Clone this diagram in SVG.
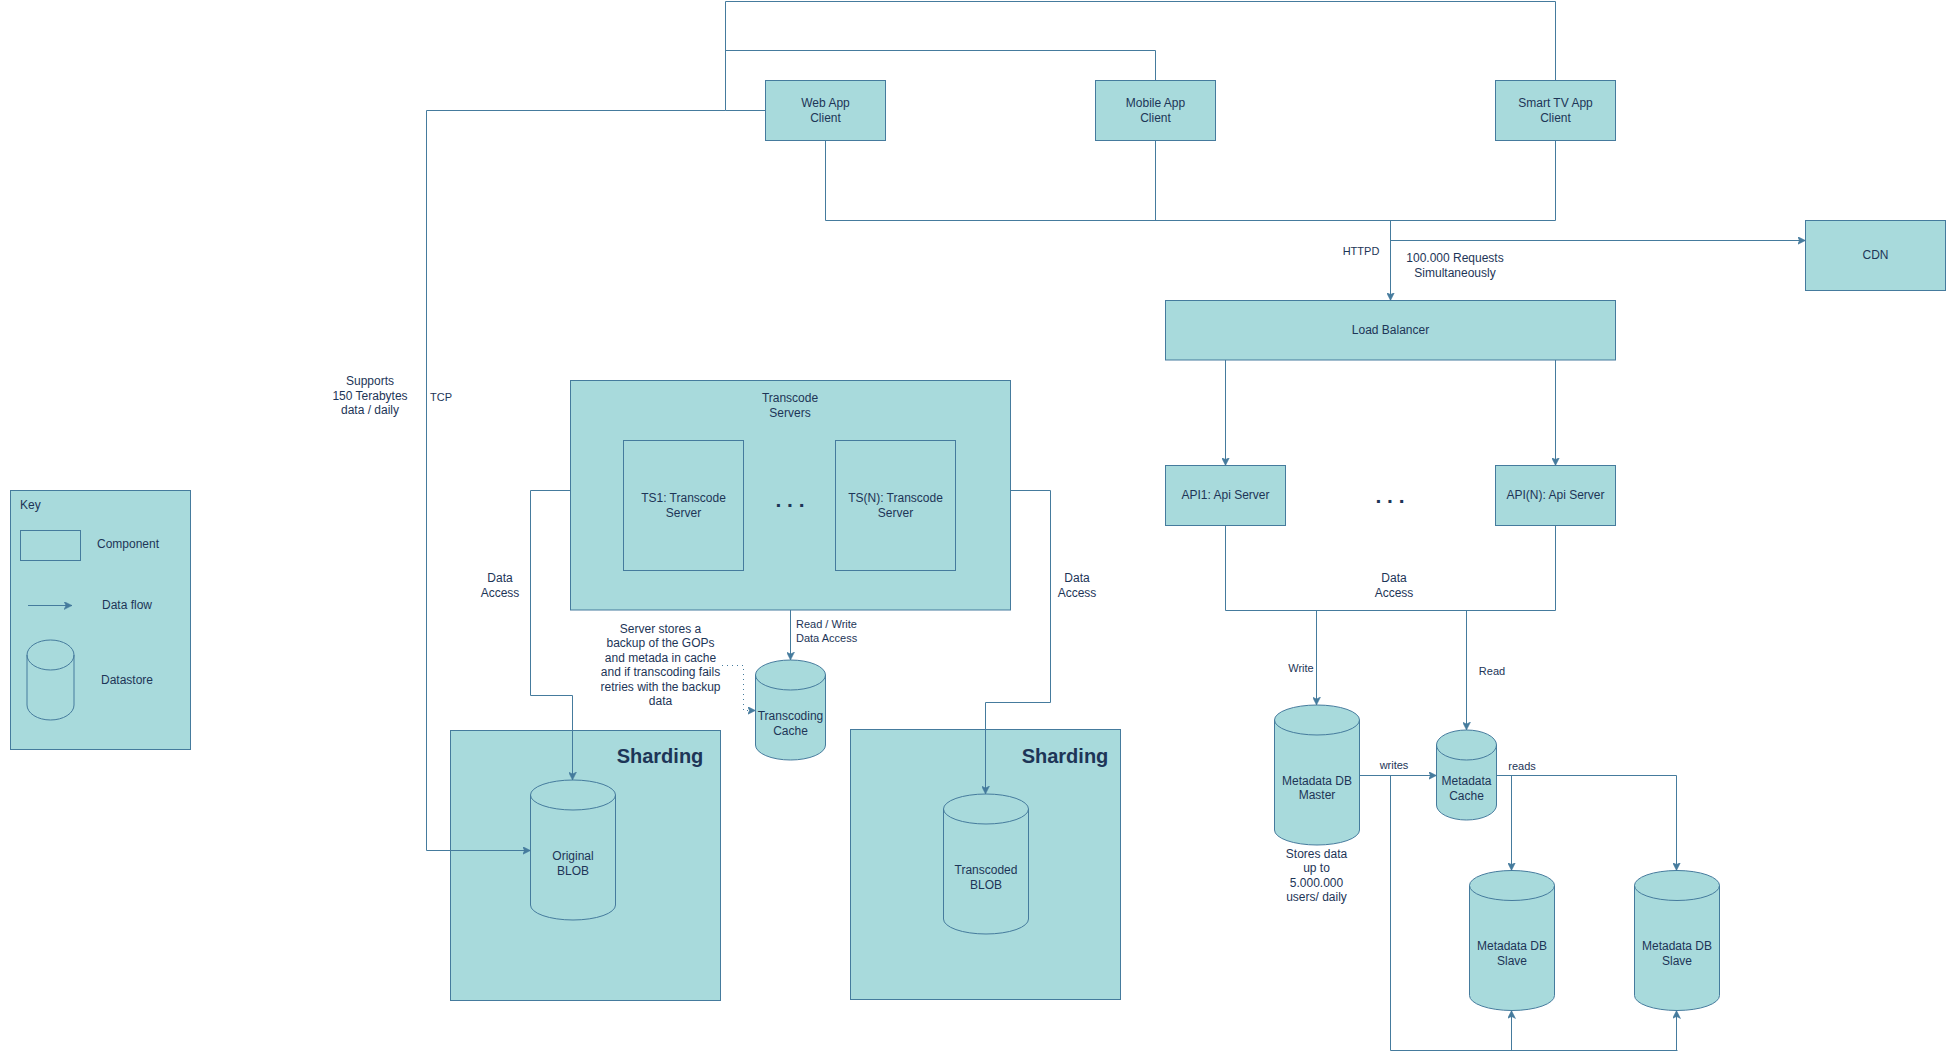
<svg xmlns="http://www.w3.org/2000/svg" width="1947" height="1059" viewBox="0 0 1947 1059">
  <style>
    .box { fill: #A8DADC; stroke: #457B9D; stroke-width: 1; }
    .outline { fill: none; stroke: #457B9D; stroke-width: 1; }
    .cyl { fill: #A8DADC; stroke: #457B9D; stroke-width: 1; }
    .edge { fill: none; stroke: #457B9D; stroke-width: 1; }
    .arrow { marker-end: url(#arr); }
    .dotted { stroke-dasharray: 1 4; }
    text { font-family: "Liberation Sans", Arial, Helvetica, sans-serif; fill: #1D3557; }
    .t12 { font-size: 12px; }
    .t11 { font-size: 11px; }
    .c { text-anchor: middle; }
    .shard { font-size: 20px; font-weight: bold; text-anchor: middle; }
    .dots { font-size: 21px; font-weight: bold; text-anchor: middle; }
  </style>
  <defs>
    <marker id="arr" markerUnits="userSpaceOnUse" markerWidth="8" markerHeight="8" refX="8" refY="4" orient="auto" viewBox="0 0 8 8">
      <path d="M0,0 L8,4 L0,8 L2,4 Z" fill="#457B9D" stroke="#457B9D" stroke-width="0.5"/>
    </marker>
  </defs>
  <rect x="0" y="0" width="1947" height="1059" fill="#FFFFFF"/>

  <!-- Key -->
  <g id="key">
    <rect class="box" x="10.5" y="490.5" width="180" height="259"/>
    <text class="t12" x="20" y="509">Key</text>
    <rect class="outline" x="20.5" y="530.5" width="60" height="30"/>
    <text class="t12 c" x="128" y="548">Component</text>
    <line class="edge arrow" x1="28" y1="605.5" x2="72" y2="605.5"/>
    <text class="t12 c" x="127" y="609">Data flow</text>
    <path class="outline" d="M27,655 A23.5,15 0 0 1 74,655 L74,705 A23.5,15 0 0 1 27,705 Z M27,655 A23.5,15 0 0 0 74,655"/>
    <text class="t12 c" x="127" y="684">Datastore</text>
  </g>

  <!-- Clients -->
  <g id="web-app-client">
    <rect class="box" x="765.5" y="80.5" width="120" height="60"/>
    <text class="t12 c" x="825.5" y="107">Web App</text>
    <text class="t12 c" x="825.5" y="121.5">Client</text>
  </g>
  <g id="mobile-app-client">
    <rect class="box" x="1095.5" y="80.5" width="120" height="60"/>
    <text class="t12 c" x="1155.5" y="107">Mobile App</text>
    <text class="t12 c" x="1155.5" y="121.5">Client</text>
  </g>
  <g id="smart-tv-app-client">
    <rect class="box" x="1495.5" y="80.5" width="120" height="60"/>
    <text class="t12 c" x="1555.5" y="107">Smart TV App</text>
    <text class="t12 c" x="1555.5" y="121.5">Client</text>
  </g>

  <g id="cdn">
    <rect class="box" x="1805.5" y="220.5" width="140" height="70"/>
    <text class="t12 c" x="1875.5" y="259">CDN</text>
  </g>

  <g id="load-balancer">
    <rect class="box" x="1165.5" y="300.5" width="450" height="59.5"/>
    <text class="t12 c" x="1390.5" y="333.5">Load Balancer</text>
  </g>

  <g id="api1">
    <rect class="box" x="1165.5" y="465.5" width="120" height="60"/>
    <text class="t12 c" x="1225.5" y="498.5">API1: Api Server</text>
  </g>
  <text class="dots" x="1390" y="503">. . .</text>
  <g id="apin">
    <rect class="box" x="1495.5" y="465.5" width="120" height="60"/>
    <text class="t12 c" x="1555.5" y="498.5">API(N): Api Server</text>
  </g>

  <!-- Transcode servers -->
  <g id="transcode-servers">
    <rect class="box" x="570.5" y="380.5" width="440" height="229.5"/>
    <text class="t12 c" x="790" y="402">Transcode</text>
    <text class="t12 c" x="790" y="416.5">Servers</text>
    <g id="ts1">
      <rect class="box" x="623.5" y="440.5" width="120" height="130"/>
      <text class="t12 c" x="683.5" y="502">TS1: Transcode</text>
      <text class="t12 c" x="683.5" y="516.5">Server</text>
    </g>
    <text class="dots" x="790" y="507">. . .</text>
    <g id="tsn">
      <rect class="box" x="835.5" y="440.5" width="120" height="130"/>
      <text class="t12 c" x="895.5" y="502">TS(N): Transcode</text>
      <text class="t12 c" x="895.5" y="516.5">Server</text>
    </g>
  </g>

  <g id="transcoding-cache">
    <path class="cyl" d="M755.5,675 A35,15 0 0 1 825.5,675 L825.5,745 A35,15 0 0 1 755.5,745 Z"/>
    <path class="outline" d="M755.5,675 A35,15 0 0 0 825.5,675"/>
    <text class="t12 c" x="790.5" y="720">Transcoding</text>
    <text class="t12 c" x="790.5" y="734.5">Cache</text>
  </g>

  <g id="sharding-original">
    <rect class="box" x="450.5" y="730.5" width="270" height="270"/>
    <text class="shard" x="660" y="763">Sharding</text>
    <g id="original-blob">
      <path class="cyl" d="M530.5,795 A42.5,15 0 0 1 615.5,795 L615.5,905 A42.5,15 0 0 1 530.5,905 Z"/>
      <path class="outline" d="M530.5,795 A42.5,15 0 0 0 615.5,795"/>
      <text class="t12 c" x="573" y="860">Original</text>
      <text class="t12 c" x="573" y="874.5">BLOB</text>
    </g>
  </g>

  <g id="sharding-transcoded">
    <rect class="box" x="850.5" y="729.5" width="270" height="270"/>
    <text class="shard" x="1065" y="763">Sharding</text>
    <g id="transcoded-blob">
      <path class="cyl" d="M943.5,809 A42.5,15 0 0 1 1028.5,809 L1028.5,919 A42.5,15 0 0 1 943.5,919 Z"/>
      <path class="outline" d="M943.5,809 A42.5,15 0 0 0 1028.5,809"/>
      <text class="t12 c" x="986" y="874">Transcoded</text>
      <text class="t12 c" x="986" y="888.5">BLOB</text>
    </g>
  </g>

  <!-- Metadata -->
  <g id="metadata-db-master">
    <path class="cyl" d="M1274.5,720 A42.5,15 0 0 1 1359.5,720 L1359.5,830 A42.5,15 0 0 1 1274.5,830 Z"/>
    <path class="outline" d="M1274.5,720 A42.5,15 0 0 0 1359.5,720"/>
    <text class="t12 c" x="1317" y="784.5">Metadata DB</text>
    <text class="t12 c" x="1317" y="799">Master</text>
  </g>
  <g id="metadata-cache">
    <path class="cyl" d="M1436.5,745 A30,15 0 0 1 1496.5,745 L1496.5,805 A30,15 0 0 1 1436.5,805 Z"/>
    <path class="outline" d="M1436.5,745 A30,15 0 0 0 1496.5,745"/>
    <text class="t12 c" x="1466.5" y="785">Metadata</text>
    <text class="t12 c" x="1466.5" y="799.5">Cache</text>
  </g>
  <g id="metadata-db-slave-1">
    <path class="cyl" d="M1469.5,885.5 A42.5,15 0 0 1 1554.5,885.5 L1554.5,995.5 A42.5,15 0 0 1 1469.5,995.5 Z"/>
    <path class="outline" d="M1469.5,885.5 A42.5,15 0 0 0 1554.5,885.5"/>
    <text class="t12 c" x="1512" y="950">Metadata DB</text>
    <text class="t12 c" x="1512" y="964.5">Slave</text>
  </g>
  <g id="metadata-db-slave-2">
    <path class="cyl" d="M1634.5,885.5 A42.5,15 0 0 1 1719.5,885.5 L1719.5,995.5 A42.5,15 0 0 1 1634.5,995.5 Z"/>
    <path class="outline" d="M1634.5,885.5 A42.5,15 0 0 0 1719.5,885.5"/>
    <text class="t12 c" x="1677" y="950">Metadata DB</text>
    <text class="t12 c" x="1677" y="964.5">Slave</text>
  </g>

  <!-- Connectors -->
  <g id="connectors">
    <path class="edge" d="M765.5,110.5 H725.5 V1.5 H1555.5 V80.5"/>
    <path class="edge" d="M725.5,50.5 H1155.5 V80.5"/>
    <path class="edge arrow" d="M725.5,110.5 H426.5 V850.5 H530.5"/>
    <path class="edge" d="M825.5,140.5 V220.5 H1555.5 V140.5"/>
    <path class="edge" d="M1155.5,140.5 V220.5"/>
    <path class="edge arrow" d="M1390.5,220.5 V300.5"/>
    <path class="edge arrow" d="M1390.5,240.5 H1805.5"/>
    <path class="edge arrow" d="M1225.5,360 V465.5"/>
    <path class="edge arrow" d="M1555.5,360 V465.5"/>
    <path class="edge" d="M1225.5,525.5 V610.5 H1555.5 V525.5"/>
    <path class="edge arrow" d="M1316.5,610.5 V705"/>
    <path class="edge arrow" d="M1466.5,610.5 V730"/>
    <path class="edge arrow" d="M1359.5,775.5 H1436.5"/>
    <path class="edge" d="M1390.5,775.5 V1050.5 H1677.5"/>
    <path class="edge arrow" d="M1511.5,1050.5 V1010.5"/>
    <path class="edge arrow" d="M1676.5,1050.5 V1010.5"/>
    <path class="edge arrow" d="M1496.5,775.5 H1676.5 V870.5"/>
    <path class="edge arrow" d="M1511.5,775.5 V870.5"/>
    <path class="edge arrow" d="M570.5,490.5 H530.5 V695.5 H572.5 V780"/>
    <path class="edge arrow" d="M1010.5,490.5 H1050.5 V702.5 H985.5 V794"/>
    <path class="edge arrow" d="M790.5,610 V660"/>
    <path class="edge arrow dotted" d="M722,665.5 H743.5 V710.5 H755.5"/>

    <text class="t11 c" x="1361" y="255">HTTPD</text>
    <text class="t12 c" x="1455" y="262">100.000 Requests</text>
    <text class="t12 c" x="1455" y="276.5">Simultaneously</text>
    <text class="t11" x="430" y="400.5">TCP</text>
    <text class="t12 c" x="370" y="385">Supports</text>
    <text class="t12 c" x="370" y="399.5">150 Terabytes</text>
    <text class="t12 c" x="370" y="414">data / daily</text>
    <text class="t12 c" x="500" y="582">Data</text>
    <text class="t12 c" x="500" y="596.5">Access</text>
    <text class="t12 c" x="1077" y="582">Data</text>
    <text class="t12 c" x="1077" y="596.5">Access</text>
    <text class="t12 c" x="1394" y="582">Data</text>
    <text class="t12 c" x="1394" y="596.5">Access</text>
    <text class="t11" x="796" y="628">Read / Write</text>
    <text class="t11" x="796" y="642">Data Access</text>
    <text class="t12 c" x="660.5" y="633">Server stores a</text>
    <text class="t12 c" x="660.5" y="647.4">backup of the GOPs</text>
    <text class="t12 c" x="660.5" y="661.8">and metada in cache</text>
    <text class="t12 c" x="660.5" y="676.2">and if transcoding fails</text>
    <text class="t12 c" x="660.5" y="690.6">retries with the backup</text>
    <text class="t12 c" x="660.5" y="705">data</text>
    <text class="t11 c" x="1301" y="672">Write</text>
    <text class="t11 c" x="1492" y="675">Read</text>
    <text class="t11 c" x="1394" y="768.5">writes</text>
    <text class="t11 c" x="1522" y="770">reads</text>
    <text class="t12 c" x="1316.5" y="858">Stores data</text>
    <text class="t12 c" x="1316.5" y="872.4">up to</text>
    <text class="t12 c" x="1316.5" y="886.8">5.000.000</text>
    <text class="t12 c" x="1316.5" y="901.2">users/ daily</text>
  </g>
</svg>
